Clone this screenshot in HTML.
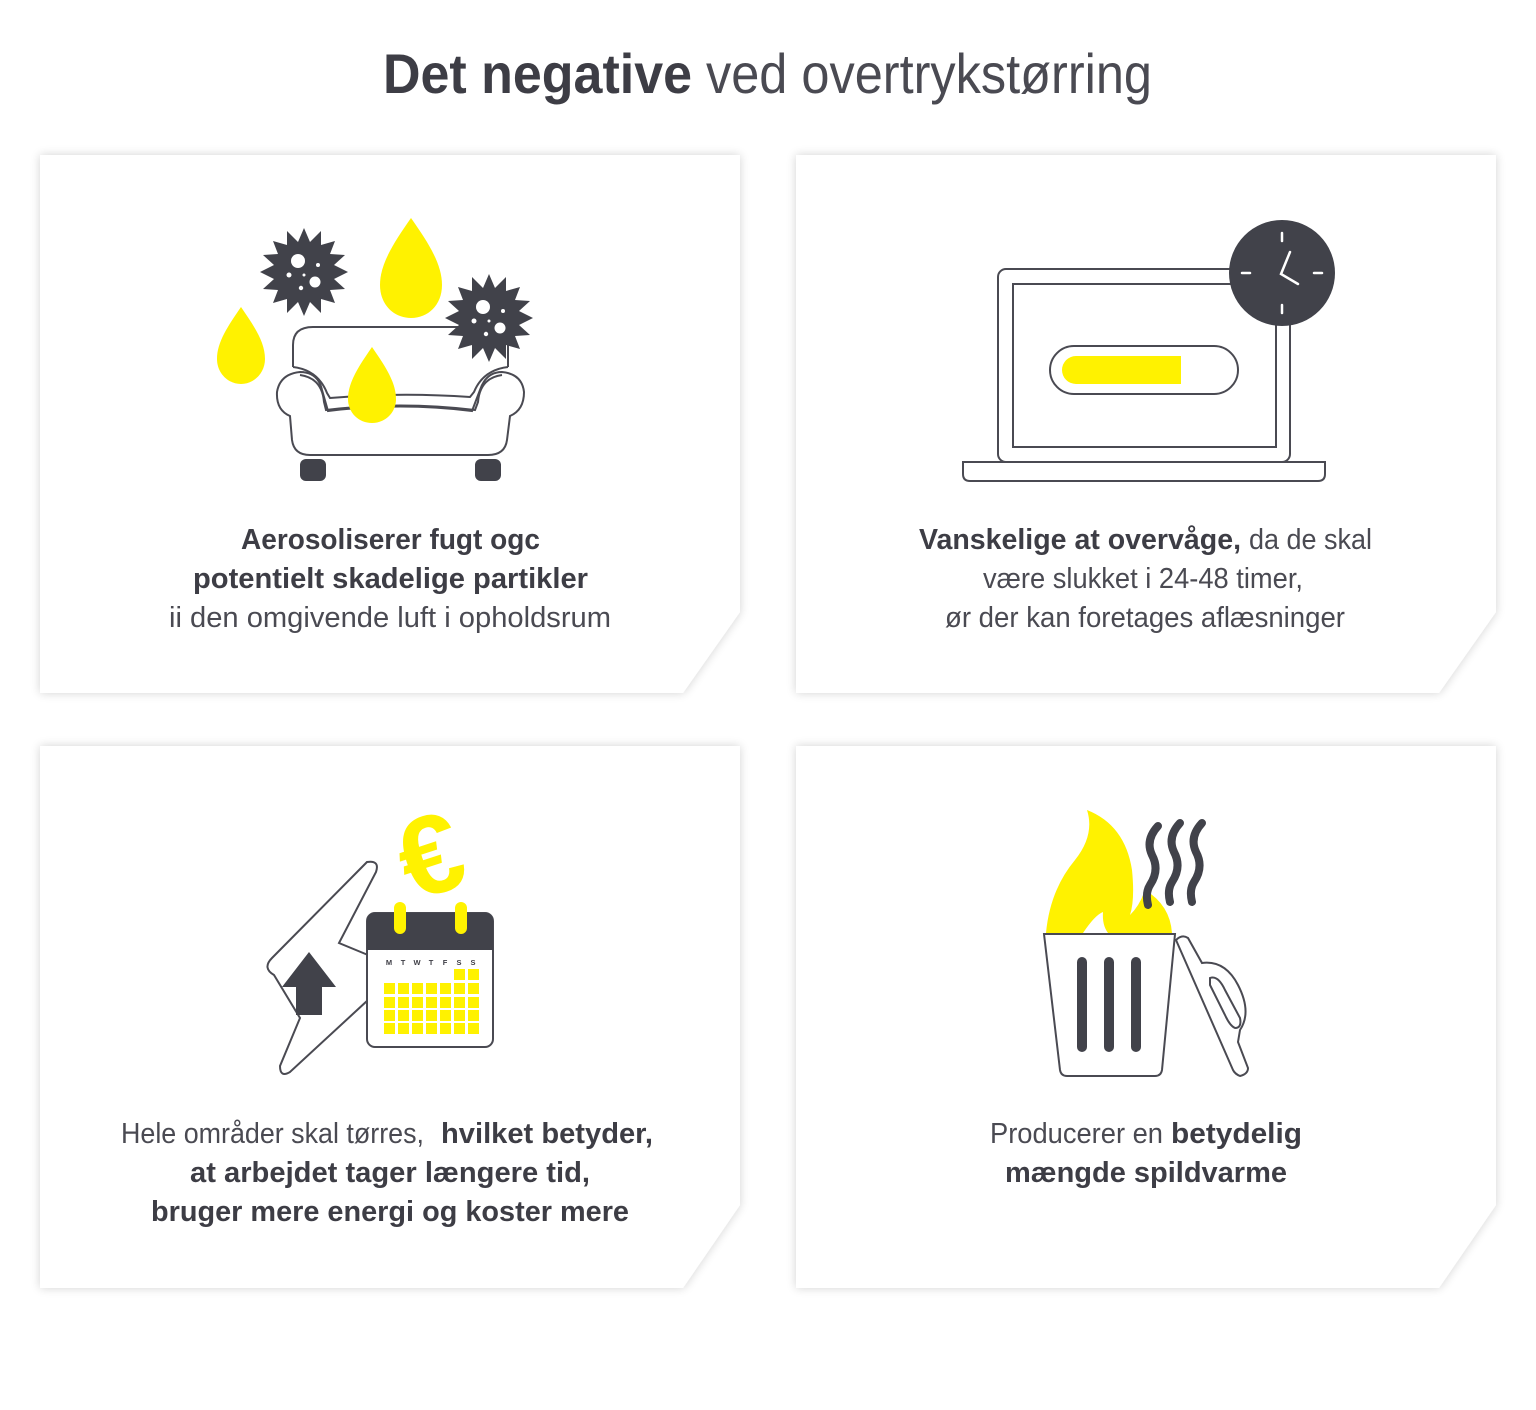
<!DOCTYPE html>
<html><head><meta charset="utf-8"><style>
html,body{margin:0;padding:0;background:#fff}
svg{display:block}
text{font-family:"Liberation Sans",sans-serif;fill:#3d3d45}
.b{font-weight:bold}
.r{fill:#4a4a52}
</style></head><body>
<svg width="1536" height="1410" viewBox="0 0 1536 1410" xmlns="http://www.w3.org/2000/svg">
<defs>
<filter id="sh" x="-10%" y="-10%" width="120%" height="120%">
<feGaussianBlur in="SourceAlpha" stdDeviation="5"/>
<feComponentTransfer><feFuncA type="linear" slope="0.18"/></feComponentTransfer>
<feMerge><feMergeNode/><feMergeNode in="SourceGraphic"/></feMerge>
</filter>
<g id="gear">
<polygon points="0,-44 6,-30 17,-41 17,-27 31,-31 26,-18 41,-17 30,-7 44,0 30,7 41,17 26,18 31,31 17,27 17,41 6,30 0,44 -6,30 -17,41 -17,27 -31,31 -26,18 -41,17 -30,7 -44,0 -30,-7 -41,-17 -26,-18 -31,-31 -17,-27 -17,-41 -6,-30" fill="#41424a"/>
<circle cx="-6" cy="-11" r="7" fill="#fff"/><circle cx="11" cy="10" r="5.5" fill="#fff"/>
<circle cx="-15" cy="3" r="2.5" fill="#fff"/><circle cx="-3" cy="16" r="2.2" fill="#fff"/>
<circle cx="14" cy="-7" r="2" fill="#fff"/><circle cx="0" cy="3" r="1.5" fill="#fff"/>
</g>
</defs>

<text y="93" font-size="56"><tspan class="b" x="383" textLength="309" lengthAdjust="spacingAndGlyphs">Det negative</tspan><tspan class="r" x="706" textLength="446" lengthAdjust="spacingAndGlyphs">ved overtrykstørring</tspan></text>

<g filter="url(#sh)" fill="#fff">
<polygon points="40,155 740,155 740,612 683,693 40,693"/>
<polygon points="796,155 1496,155 1496,612 1439,693 796,693"/>
<polygon points="40,746 740,746 740,1205 683,1288 40,1288"/>
<polygon points="796,746 1496,746 1496,1205 1439,1288 796,1288"/>
</g>

<!-- card1 icon -->
<use href="#gear" x="304" y="272"/>
<path d="M411,218 C430,245 442,265 442,285 C442,305 428,318 411,318 C394,318 380,305 380,285 C380,265 392,245 411,218Z" fill="#fff200"/>
<path d="M241,307 C254,326 265,342 265,359 C265,373 254,384 241,384 C228,384 217,373 217,359 C217,342 228,326 241,307Z" fill="#fff200"/>
<g fill="none" stroke="#4a4a52" stroke-width="2">
<path d="M293,367 L293,345 Q293,327 313,327 L490,327 Q508,327 508,345 L508,367"/>
<path d="M293,367 Q318,370 327,393 L330,398 Q400,392 470,397 L474,392 Q483,370 508,367"/>
<path d="M300,375 Q322,378 324,402 L326,410 Q400,401 475,410 L478,402 Q480,378 502,375"/>
<path d="M290,416 Q276,410 277,392 Q280,374 300,372 Q318,372 322,390 L328,411 Q400,402 472,411 L480,390 Q486,372 502,372 Q522,374 524,392 Q524,410 510,416 L507,440 Q505,455 488,455 L310,455 Q294,455 292,440Z"/>
</g>
<use href="#gear" x="489" y="318"/>
<path d="M372,347 C385,366 396,382 396,399 C396,413 385,423 372,423 C359,423 348,413 348,399 C348,382 359,366 372,347Z" fill="#fff200"/>
<rect x="300" y="459" width="26" height="22" rx="6" fill="#41424a"/>
<rect x="475" y="459" width="26" height="22" rx="6" fill="#41424a"/>

<text font-size="29" text-anchor="start">
<tspan class="b" x="241" y="549" textLength="299" lengthAdjust="spacingAndGlyphs">Aerosoliserer fugt ogc</tspan>
<tspan class="b" x="193" y="588" textLength="395" lengthAdjust="spacingAndGlyphs">potentielt skadelige partikler</tspan>
<tspan class="r" x="169" y="627" textLength="442" lengthAdjust="spacingAndGlyphs">ii den omgivende luft i opholdsrum</tspan>
</text>

<!-- card2 icon -->
<g fill="none" stroke="#4a4a52" stroke-width="2">
<rect x="998" y="269" width="292" height="193" rx="8"/>
<rect x="1013" y="284" width="263" height="163"/>
<path d="M963,462 L1325,462 L1325,474 Q1325,481 1318,481 L970,481 Q963,481 963,474Z"/>
<rect x="1050" y="346" width="188" height="48" rx="24"/>
</g>
<path d="M1076,356 L1181,356 L1181,384 L1076,384 A14,14 0 0 1 1076,356Z" fill="#fff200"/>
<circle cx="1282" cy="273" r="53" fill="#41424a"/>
<g stroke="#fff" stroke-width="2.5" stroke-linecap="round">
<line x1="1282" y1="233" x2="1282" y2="241"/><line x1="1282" y1="305" x2="1282" y2="313"/>
<line x1="1242" y1="273" x2="1250" y2="273"/><line x1="1314" y1="273" x2="1322" y2="273"/>
<polyline points="1290,252 1281,274 1298,284" fill="none"/>
</g>
<text font-size="29">
<tspan class="b" x="919" y="549" textLength="322" lengthAdjust="spacingAndGlyphs">Vanskelige at overvåge,</tspan>
<tspan class="r" x="1249" y="549" textLength="123" lengthAdjust="spacingAndGlyphs">da de skal</tspan>
<tspan class="r" x="983" y="588" textLength="320" lengthAdjust="spacingAndGlyphs">være slukket i 24-48 timer,</tspan>
<tspan class="r" x="945" y="627" textLength="400" lengthAdjust="spacingAndGlyphs">ør der kan foretages aflæsninger</tspan>
</text>

<!-- card3 icon -->
<path d="M367,862 Q380,860 376,872 L339,943 L368,955 L368,1000 L290,1072 Q280,1078 280,1066 L300,1018 L274,975 Q262,968 272,958Z" fill="#fff" stroke="#4a4a52" stroke-width="2"/>
<polygon points="309,952 336,987 322,987 322,1015 296,1015 296,987 282,987" fill="#41424a"/>
<text x="0" y="0" font-size="112" class="b" text-anchor="middle" style="fill:#fff200" transform="translate(442,892) rotate(-18)">€</text>
<rect x="367" y="913" width="126" height="134" rx="8" fill="#fff" stroke="#4a4a52" stroke-width="2"/>
<path d="M367,950 L367,921 Q367,913 375,913 L485,913 Q493,913 493,921 L493,950Z" fill="#41424a"/>
<rect x="394" y="902" width="12" height="32" rx="6" fill="#fff200"/>
<rect x="455" y="902" width="12" height="32" rx="6" fill="#fff200"/>
<g font-size="7.5" class="b" text-anchor="middle">
<text x="389" y="965">M</text><text x="403" y="965">T</text><text x="417" y="965">W</text><text x="431" y="965">T</text><text x="445" y="965">F</text><text x="459" y="965">S</text><text x="473" y="965">S</text>
</g>
<g fill="#fff200">
<rect x="454" y="969" width="11" height="11"/><rect x="468" y="969" width="11" height="11"/>
<rect x="384" y="983" width="11" height="11"/><rect x="398" y="983" width="11" height="11"/><rect x="412" y="983" width="11" height="11"/><rect x="426" y="983" width="11" height="11"/><rect x="440" y="983" width="11" height="11"/><rect x="454" y="983" width="11" height="11"/><rect x="468" y="983" width="11" height="11"/>
<rect x="384" y="997" width="11" height="11"/><rect x="398" y="997" width="11" height="11"/><rect x="412" y="997" width="11" height="11"/><rect x="426" y="997" width="11" height="11"/><rect x="440" y="997" width="11" height="11"/><rect x="454" y="997" width="11" height="11"/><rect x="468" y="997" width="11" height="11"/>
<rect x="384" y="1010" width="11" height="11"/><rect x="398" y="1010" width="11" height="11"/><rect x="412" y="1010" width="11" height="11"/><rect x="426" y="1010" width="11" height="11"/><rect x="440" y="1010" width="11" height="11"/><rect x="454" y="1010" width="11" height="11"/><rect x="468" y="1010" width="11" height="11"/>
<rect x="384" y="1023" width="11" height="11"/><rect x="398" y="1023" width="11" height="11"/><rect x="412" y="1023" width="11" height="11"/><rect x="426" y="1023" width="11" height="11"/><rect x="440" y="1023" width="11" height="11"/><rect x="454" y="1023" width="11" height="11"/><rect x="468" y="1023" width="11" height="11"/>
</g>
<text font-size="29">
<tspan class="r" x="121" y="1143" textLength="303" lengthAdjust="spacingAndGlyphs">Hele områder skal tørres,</tspan>
<tspan class="b" x="441" y="1143" textLength="212" lengthAdjust="spacingAndGlyphs">hvilket betyder,</tspan>
<tspan class="b" x="190" y="1182" textLength="400" lengthAdjust="spacingAndGlyphs">at arbejdet tager længere tid,</tspan>
<tspan class="b" x="151" y="1221" textLength="478" lengthAdjust="spacingAndGlyphs">bruger mere energi og koster mere</tspan>
</text>

<!-- card4 icon -->
<path d="M1046,933 Q1050,890 1075,860 Q1095,835 1087,810 Q1125,825 1132,870 Q1135,900 1130,915 Q1140,905 1145,890 Q1170,905 1172,933Z" fill="#fff200"/>
<path d="M1083,933 Q1095,915 1103,912 Q1102,925 1108,933Z" fill="#fff"/>
<g fill="none" stroke="#41424a" stroke-width="8" stroke-linecap="round">
<path d="M1158,826 Q1145,840 1152,855 Q1160,870 1150,885 Q1145,893 1148,905"/>
<path d="M1180,823 Q1167,837 1174,852 Q1182,867 1172,882 Q1167,890 1170,902"/>
<path d="M1202,823 Q1189,837 1196,852 Q1204,867 1194,882 Q1189,890 1192,902"/>
</g>
<path d="M1044,934 L1175,934 L1162,1070 Q1161,1076 1155,1076 L1067,1076 Q1061,1076 1060,1070Z" fill="#fff" stroke="#4a4a52" stroke-width="2"/>
<g stroke="#41424a" stroke-width="10" stroke-linecap="round">
<line x1="1082" y1="962" x2="1082" y2="1047"/><line x1="1109" y1="962" x2="1109" y2="1047"/><line x1="1136" y1="962" x2="1136" y2="1047"/>
</g>
<path d="M1176,940 Q1182,934 1188,938 L1202,963 Q1225,960 1238,985 Q1252,1012 1240,1030 L1238,1042 L1248,1068 Q1248,1074 1240,1076 Q1235,1074 1233,1070Z" fill="#fff" stroke="#4a4a52" stroke-width="2"/>
<path d="M1210,978 Q1218,975 1225,990 L1240,1018 Q1242,1028 1235,1028 Q1230,1026 1225,1015 L1210,985Z" fill="none" stroke="#4a4a52" stroke-width="2"/>
<text font-size="29">
<tspan class="r" x="990" y="1143" textLength="173" lengthAdjust="spacingAndGlyphs">Producerer en</tspan>
<tspan class="b" x="1171" y="1143" textLength="131" lengthAdjust="spacingAndGlyphs">betydelig</tspan>
<tspan class="b" x="1005" y="1182" textLength="282" lengthAdjust="spacingAndGlyphs">mængde spildvarme</tspan>
</text>
</svg>
</body></html>
